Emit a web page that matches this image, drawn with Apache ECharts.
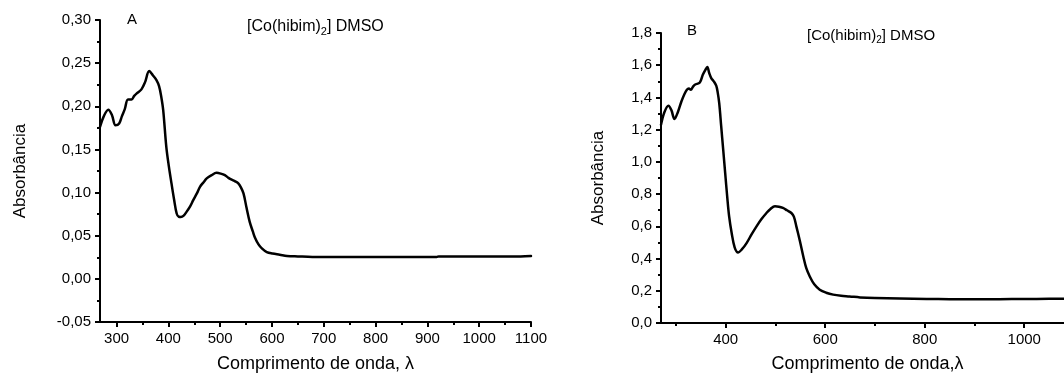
<!DOCTYPE html>
<html><head><meta charset="utf-8">
<script src="https://cdn.jsdelivr.net/npm/echarts@6/dist/echarts.min.js"></script>
<style>html,body{margin:0;padding:0;background:#fff}#c{width:1064px;height:373px}</style>
</head><body><div id="c"></div>
<script>
// ---- Data ----
const wavelengthA = [268, 275, 284, 291, 298, 305, 310, 316, 322, 329, 334, 339, 348, 355, 363, 370, 377, 382, 386, 390, 396, 401, 406, 411, 416, 420, 424, 429, 435, 442, 448, 455, 461, 468, 474, 483, 493, 501, 509, 516, 522, 529, 535, 540, 545, 551, 557, 563, 567, 574, 581, 590, 601, 615, 629, 650, 678, 700, 750, 800, 850, 900, 918, 922, 950, 1000, 1050, 1080, 1100];
const absorbanceA = [0.176, 0.188, 0.196, 0.190, 0.178, 0.180, 0.188, 0.197, 0.208, 0.208, 0.212, 0.215, 0.2196, 0.228, 0.2408, 0.236, 0.2304, 0.2234, 0.212, 0.1956, 0.153, 0.130, 0.1106, 0.092, 0.0757, 0.072, 0.0718, 0.073, 0.0776, 0.084, 0.0912, 0.099, 0.1067, 0.112, 0.1164, 0.120, 0.1229, 0.122, 0.1202, 0.117, 0.115, 0.113, 0.1106, 0.106, 0.099, 0.082, 0.066, 0.055, 0.048, 0.040, 0.035, 0.031, 0.0293, 0.028, 0.0266, 0.026, 0.0254, 0.0254, 0.0254, 0.0254, 0.0254, 0.0254, 0.0254, 0.026, 0.026, 0.026, 0.026, 0.026, 0.0265];

const wavelengthB = [270, 277, 285, 291, 297, 304, 311, 317, 322, 326, 330, 334, 338, 348, 354, 359, 363, 367, 371, 376, 381, 384, 387, 391, 395, 399, 403, 407, 412, 418, 425, 432, 442, 452, 462, 472, 482, 490, 499, 507, 515, 523, 532, 537, 542, 549, 556, 562, 569, 578, 589, 602, 616, 632, 649, 670, 700, 750, 804, 850, 904, 950, 1000, 1050, 1100];
const absorbanceB = [1.231, 1.31, 1.349, 1.32, 1.266, 1.31, 1.375, 1.42, 1.448, 1.455, 1.448, 1.465, 1.479, 1.493, 1.541, 1.57, 1.589, 1.55, 1.52, 1.50, 1.473, 1.43, 1.365, 1.22, 1.076, 0.93, 0.786, 0.66, 0.559, 0.47, 0.438, 0.455, 0.496, 0.55, 0.60, 0.645, 0.683, 0.708, 0.724, 0.722, 0.714, 0.70, 0.683, 0.66, 0.60, 0.51, 0.413, 0.34, 0.289, 0.24, 0.207, 0.188, 0.176, 0.169, 0.165, 0.159, 0.155, 0.152, 0.149, 0.148, 0.147, 0.148, 0.149, 0.150, 0.151];

const xMajorTicksA = [300, 400, 500, 600, 700, 800, 900, 1000, 1100];
const xMinorTicksA = [350, 450, 550, 650, 750, 850, 950, 1050];
const xMajorTicksB = [400, 600, 800, 1000];
const xMinorTicksB = [300, 500, 700, 900, 1100];

const xNameA = 'Comprimento de onda, λ';
const xNameB = 'Comprimento de onda,λ';
const yName = 'Absorbância';
const panelLabels = ['A', 'B'];
const compoundLabel = ['[Co(hibim)', '2', '] DMSO'];

// ---- Chart ----
const FONT = '"Liberation Sans", Arial, sans-serif';
const BLACK = '#000';
const chart = echarts.init(document.getElementById('c'), null, {renderer: 'canvas'});

const gridA = {left: 100, top: 20, width: 431, height: 302};
const gridB = {left: 661, top: 33, width: 413, height: 290};

function pair(xs, ys) { return xs.map((x, i) => [x, ys[i]]); }

function mainX(gridIndex, min, max, ticks, name, nameGap) {
  return {
    type: 'value', gridIndex, min, max, position: 'bottom',
    axisLine: {show: true, onZero: false, lineStyle: {color: BLACK, width: 2}},
    axisTick: {show: true, customValues: ticks, length: 5, lineStyle: {color: BLACK, width: 2}},
    axisLabel: {show: true, customValues: ticks, fontSize: 15, color: BLACK, fontFamily: FONT, margin: 9,
      formatter: v => String(Math.round(v))},
    splitLine: {show: false},
    name, nameLocation: 'middle', nameGap,
    nameTextStyle: {fontSize: 18, color: BLACK, fontFamily: FONT}
  };
}
function minorX(gridIndex, min, max, ticks) {
  return {
    type: 'value', gridIndex, min, max, position: 'bottom',
    axisLine: {show: false, onZero: false},
    axisTick: {show: true, customValues: ticks, length: 3, lineStyle: {color: BLACK, width: 2}},
    axisLabel: {show: false},
    splitLine: {show: false}
  };
}
function mainY(gridIndex, min, max, interval, decimals, nameGap, nameSize) {
  return {
    type: 'value', gridIndex, min, max, interval,
    axisLine: {show: true, onZero: false, lineStyle: {color: BLACK, width: 2}},
    axisTick: {show: true, length: 5, lineStyle: {color: BLACK, width: 2}},
    minorTick: {show: true, splitNumber: 2, length: 3, lineStyle: {color: BLACK, width: 2}},
    axisLabel: {fontSize: 15, color: BLACK, fontFamily: FONT, margin: 9,
      formatter: v => v.toFixed(decimals).replace('.', ',')},
    splitLine: {show: false}, minorSplitLine: {show: false},
    name: yName, nameLocation: 'middle', nameGap,
    nameTextStyle: {fontSize: nameSize, color: BLACK, fontFamily: FONT}
  };
}
function hiddenY(gridIndex, min, max) {
  return {type: 'value', gridIndex, min, max, show: false, splitLine: {show: false}};
}

function labelText(x, y, size, text) {
  return {type: 'text', x, y, style: {text, fontSize: size, fontFamily: FONT, fill: BLACK, align: 'left', verticalAlign: 'middle'}};
}
function compoundText(x, y, size) {
  return {
    type: 'text', x, y,
    style: {
      text: compoundLabel[0] + '{sub|' + compoundLabel[1] + '}' + compoundLabel[2],
      fontSize: size, fontFamily: FONT, fill: BLACK, align: 'left', verticalAlign: 'middle',
      rich: {sub: {fontSize: Math.round(size * 0.68), fontFamily: FONT, fill: BLACK, padding: [Math.round(size * 0.55), 0, 0, 0]}}
    }
  };
}

const lineStyle = {color: BLACK, width: 2.5, join: 'round', cap: 'round'};
const gridCommon = {containLabel: false, outerBoundsMode: 'none'};

chart.setOption({
  backgroundColor: '#fff',
  animation: false,
  grid: [
    Object.assign({}, gridCommon, gridA),
    Object.assign({}, gridCommon, gridB),
    Object.assign({}, gridCommon, gridA),
    Object.assign({}, gridCommon, gridB)
  ],
  xAxis: [
    mainX(0, 268, 1100, xMajorTicksA, xNameA, 33),
    mainX(1, 270, 1100, xMajorTicksB, xNameB, 32),
    minorX(2, 268, 1100, xMinorTicksA),
    minorX(3, 270, 1100, xMinorTicksB)
  ],
  yAxis: [
    mainY(0, -0.05, 0.30, 0.05, 2, 71, 17),
    mainY(1, 0, 1.8, 0.2, 1, 54, 17),
    hiddenY(2, -0.05, 0.30),
    hiddenY(3, 0, 1.8)
  ],
  series: [
    {type: 'line', xAxisIndex: 0, yAxisIndex: 0, data: pair(wavelengthA, absorbanceA),
      showSymbol: false, smooth: 0.35, lineStyle, silent: true},
    {type: 'line', xAxisIndex: 1, yAxisIndex: 1, data: pair(wavelengthB, absorbanceB),
      showSymbol: false, smooth: 0.35, lineStyle, silent: true}
  ],
  graphic: [
    labelText(127, 20, 15, panelLabels[0]),
    compoundText(247, 27, 16),
    labelText(687, 31, 15, panelLabels[1]),
    compoundText(807, 36, 15)
  ]
});
</script>
</body></html>
